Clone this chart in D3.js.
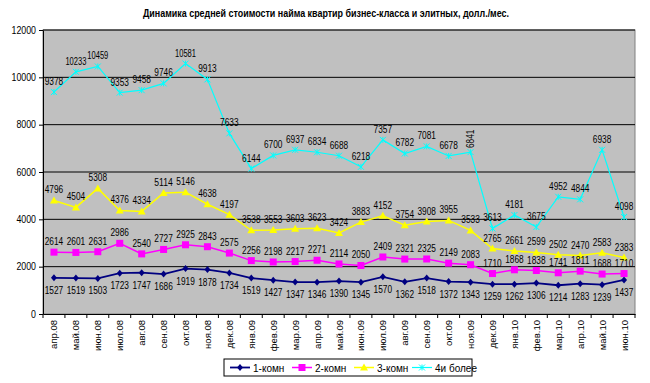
<!DOCTYPE html>
<html><head><meta charset="utf-8">
<script src="https://cdn.jsdelivr.net/npm/d3@7"></script>
<style>body{margin:0;background:#fff}svg{font-family:"Liberation Sans",Arial,sans-serif}</style>
</head><body><svg id="c" width="650" height="383"></svg>
<script>
const categories=["апр.08","май.08","июн.08","июл.08","авг.08","сен.08","окт.08","ноя.08","дек.08","янв.09","фев.09","мар.09","апр.09","май.09","июн.09","июл.09","авг.09","сен.09","окт.09","ноя.09","дек.09","янв.10","фев.10","мар.10","апр.10","май.10","июн.10"];
const room1=[1527,1519,1503,1723,1747,1686,1919,1878,1734,1519,1427,1347,1346,1390,1345,1570,1362,1518,1372,1343,1259,1262,1306,1214,1283,1239,1437];
const room2=[2614,2601,2631,2986,2540,2727,2925,2843,2575,2256,2198,2217,2271,2114,2050,2409,2321,2325,2149,2083,1710,1868,1838,1741,1811,1688,1710];
const room3=[4796,4504,5308,4376,4334,5114,5146,4638,4197,3538,3553,3603,3623,3424,3883,4152,3754,3908,3955,3533,2765,2661,2599,2502,2470,2583,2383];
const room4=[9378,10233,10459,9353,9458,9746,10581,9913,7633,6144,6700,6937,6834,6688,6218,7357,6782,7081,6678,6841,3613,4181,3675,4952,4844,6938,4098];
const seriesNames=["1-комн","2-комн","3-комн","4и более"];
const yTicks=[0,2000,4000,6000,8000,10000,12000];

const svg=d3.select("#c");
const L=43,R=635,T=30,B=314;
const x=d3.scaleBand().domain(categories).range([L,R]);
const y=d3.scaleLinear().domain([0,12000]).range([B,T]);
const cx=d=>x(d)+x.bandwidth()/2;

svg.append("text").attr("x",326).attr("y",17).attr("text-anchor","middle")
 .attr("font-size",11).attr("font-weight","bold")
 .attr("textLength",366).attr("lengthAdjust","spacingAndGlyphs")
 .text("Динамика средней стоимости найма квартир бизнес-класса и элитных, долл./мес.");

svg.append("rect").attr("x",L).attr("y",T).attr("width",R-L).attr("height",B-T).attr("fill","#c0c0c0").attr("stroke","#808080");
svg.selectAll(".grid").data(yTicks.filter(v=>v>0)).enter().append("line")
 .attr("x1",L).attr("x2",R).attr("y1",d=>y(d)).attr("y2",d=>y(d)).attr("stroke","#000").attr("stroke-width",1);

const ya=svg.append("g").attr("transform",`translate(${L},0)`).call(d3.axisLeft(y).tickValues(yTicks).tickSize(4).tickSizeOuter(0).tickFormat(d3.format("d")));
ya.selectAll("text").attr("font-size",10).attr("fill","#000").attr("font-family","Liberation Sans, Arial")
 .each(function(d){d3.select(this).attr("textLength",String(d).length*4.9).attr("lengthAdjust","spacingAndGlyphs");});
ya.select(".domain").attr("stroke","#000");
ya.selectAll(".tick line").attr("stroke","#000");

const xa=svg.append("g").attr("transform",`translate(0,${B})`).call(d3.axisBottom(x).tickSize(0).tickSizeOuter(0));
xa.select(".domain").attr("stroke","#000");
xa.selectAll("text").attr("font-size",9.5).attr("fill","#000").attr("font-family","Liberation Sans, Arial")
 .attr("transform","rotate(-90)").attr("text-anchor","end").attr("dx",-6).attr("dy",-x.bandwidth()/2+3.5)
 .attr("x",0).attr("y",x.bandwidth()/2);
svg.selectAll(".xt").data(d3.range(categories.length+1)).enter().append("line")
 .attr("x1",i=>L+i*x.bandwidth()).attr("x2",i=>L+i*x.bandwidth()).attr("y1",B).attr("y2",B+4).attr("stroke","#000");

const colors=["#000080","#ff00ff","#ffff00","#00ffff"];
const widths=[1.8,1.5,1.5,1.2];
const data=[room1,room2,room3,room4];
const line=d3.line().x((d,i)=>cx(categories[i])).y(d=>y(d));

function marker(g,k,px,py){
 const c=colors[k];
 if(k===0){g.append("path").attr("d",`M${px},${py-3.5}L${px+3},${py}L${px},${py+3.5}L${px-3},${py}Z`).attr("fill",c);}
 else if(k===1){g.append("rect").attr("x",px-3.5).attr("y",py-3.5).attr("width",7).attr("height",7).attr("fill",c);}
 else if(k===2){g.append("path").attr("d",`M${px},${py-4}L${px+4},${py+3}L${px-4},${py+3}Z`).attr("fill",c);}
 else {g.append("path").attr("d",`M${px-3},${py-3}L${px+3},${py+3}M${px-3},${py+3}L${px+3},${py-3}M${px},${py-3}L${px},${py+3}`).attr("stroke",c).attr("stroke-width",1);}
}

data.forEach((s,k)=>{
 const g=svg.append("g");
 g.append("path").datum(s).attr("d",line).attr("fill","none").attr("stroke",colors[k]).attr("stroke-width",widths[k]);
 s.forEach((v,i)=>marker(g,k,cx(categories[i]),y(v)));
});
data.forEach((s,k)=>{
 const g=svg.append("g");
 s.forEach((v,i)=>{
  const px=cx(categories[i]),py=y(v);
  const len=String(v).length===5?21:18.5;
  const t=g.append("text").attr("font-size",10).attr("fill","#000").attr("text-anchor","middle")
   .attr("textLength",len).attr("lengthAdjust","spacingAndGlyphs").text(v);
  if(k===3&&i===19){t.attr("transform",`translate(${px+3},${py-4}) rotate(-90)`).attr("text-anchor","start");}
  else if(k===0){t.attr("x",px).attr("y",py+16);}
  else{t.attr("x",px).attr("y",py-7);}
 });
});

const lg=svg.append("g").attr("transform","translate(224,359)");
lg.append("rect").attr("width",248).attr("height",17).attr("fill","#fff").attr("stroke","#000");
const offs=[6,68,130,188];
seriesNames.forEach((n,k)=>{
 const gx=offs[k];
 lg.append("line").attr("x1",gx).attr("x2",gx+20).attr("y1",8.5).attr("y2",8.5).attr("stroke",colors[k]).attr("stroke-width",widths[k]);
 marker(lg,k,gx+10,8.5);
 lg.append("text").attr("x",gx+23).attr("y",12.5).attr("font-size",10).attr("fill","#000").text(n);
});
</script></body></html>
